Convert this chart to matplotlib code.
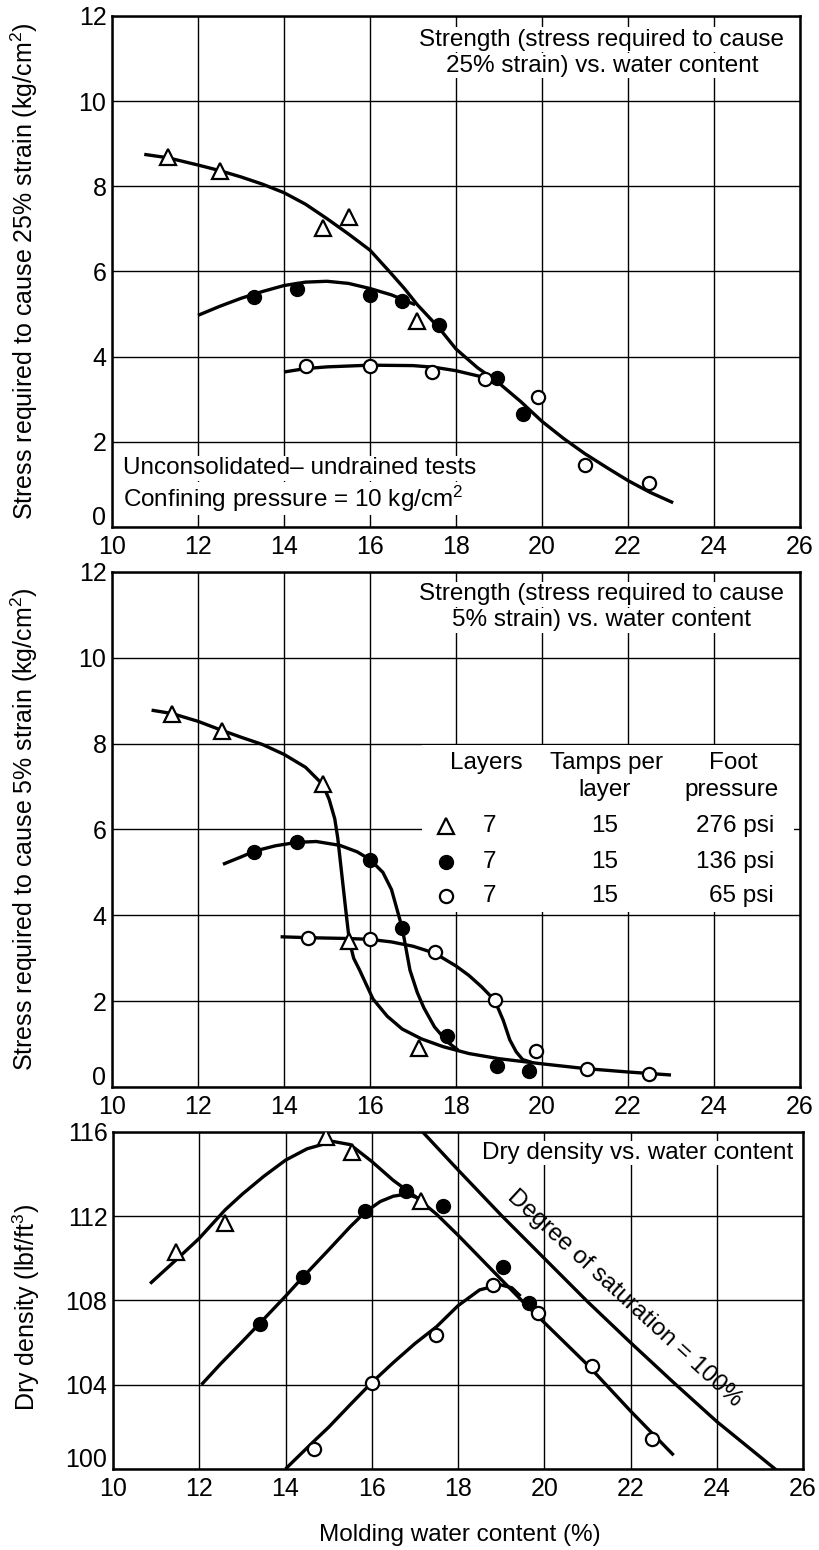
import numpy as np
import matplotlib.pyplot as plt
from matplotlib.patches import Rectangle
from matplotlib.transforms import ScaledTranslation


# plot setup
plt.rc('font', **{'family': 'sans-serif', 'sans-serif': ['Liberation Sans']})
plt.rc('mathtext', **{'default': 'regular'})
plt.rc('xtick', labelsize=18)
plt.rc('ytick', labelsize=18)
plt.rc('axes', labelsize=18)

# ---- stress for 25% strain ----
s25_tri_x = [11.3, 12.5, 14.9, 15.5, 17.1]
s25_tri_y = [8.68, 8.37, 7.03, 7.27, 4.84]
s25_fill_x = [13.3, 14.3, 16.0, 16.75, 17.6, 18.95, 19.55]
s25_fill_y = [5.4, 5.58, 5.45, 5.3, 4.75, 3.5, 2.65]
s25_open_x = [14.5, 16.0, 17.45, 18.67, 19.9, 21.0, 22.5]
s25_open_y = [3.78, 3.79, 3.63, 3.47, 3.05, 1.45, 1.03]

# fitted curves
s25_tri_cx = [10.75, 11.3, 12.0, 12.5, 13.0, 13.5, 14.0, 14.5, 15.0, 15.5, 16.0,
              16.45, 16.8, 17.1, 17.6, 18.0, 18.5, 18.95, 19.5, 20.0, 20.5, 21.0,
              21.5, 22.0, 22.5, 23.05]
s25_tri_cy = [8.75, 8.67, 8.5, 8.37, 8.22, 8.05, 7.85, 7.58, 7.24, 6.88, 6.5,
              6.0, 5.6, 5.22, 4.68, 4.18, 3.74, 3.42, 2.95, 2.48, 2.08, 1.72,
              1.4, 1.09, 0.82, 0.57]
s25_fill_cx = [12.0, 12.5, 13.0, 13.5, 14.0, 14.5, 15.0, 15.5, 16.0, 16.5, 17.05]
s25_fill_cy = [4.97, 5.18, 5.37, 5.53, 5.67, 5.75, 5.77, 5.72, 5.6, 5.45, 5.22]
s25_open_cx = [14.0, 14.5, 15.0, 16.0, 17.0, 17.5, 18.0, 18.5, 18.85]
s25_open_cy = [3.64, 3.72, 3.76, 3.8, 3.79, 3.75, 3.67, 3.55, 3.47]

# ---- stress for 5% strain ----
s5_tri_x = [11.4, 12.55, 14.9, 15.5, 17.15]
s5_tri_y = [8.7, 8.3, 7.05, 3.4, 0.9]
s5_fill_x = [13.3, 14.3, 16.0, 16.75, 17.8, 18.95, 19.7]
s5_fill_y = [5.48, 5.7, 5.3, 3.7, 1.2, 0.5, 0.38]
s5_open_x = [14.55, 16.0, 17.5, 18.9, 19.85, 21.05, 22.5]
s5_open_y = [3.48, 3.45, 3.15, 2.02, 0.83, 0.42, 0.3]

s5_tri_cx = [10.92, 11.4, 12.0, 12.5, 13.0, 13.5, 14.0, 14.5, 14.9, 15.05, 15.18,
             15.25, 15.35, 15.45, 15.52, 15.62, 15.76, 16.07, 16.4, 16.75, 17.2,
             17.7, 18.3, 19.0, 20.0, 21.0, 22.0, 23.0]
s5_tri_cy = [8.78, 8.7, 8.52, 8.33, 8.15, 7.98, 7.75, 7.45, 7.05, 6.7, 6.25,
             5.8, 4.9, 4.0, 3.4, 3.0, 2.72, 2.05, 1.65, 1.35, 1.12,
             0.94, 0.78, 0.66, 0.54, 0.43, 0.35, 0.28]
s5_fill_cx = [12.58, 13.0, 13.33, 13.8, 14.3, 14.75, 15.3, 15.7, 16.0, 16.3, 16.5,
              16.75, 16.93, 17.1, 17.25, 17.5, 17.8, 18.05]
s5_fill_cy = [5.19, 5.36, 5.5, 5.62, 5.7, 5.72, 5.63, 5.48, 5.3, 5.0, 4.6,
              3.7, 2.72, 2.2, 1.85, 1.4, 1.05, 0.86]
s5_open_cx = [13.92, 14.55, 15.0, 15.5, 16.0, 16.5, 17.0, 17.5, 18.0, 18.3, 18.6,
              18.9, 19.1, 19.25, 19.4, 19.55, 19.8]
s5_open_cy = [3.5, 3.48, 3.47, 3.46, 3.44, 3.38, 3.28, 3.12, 2.82, 2.6, 2.33,
              2.02, 1.55, 1.1, 0.82, 0.64, 0.56]

# ---- dry density ----
dd_tri_x = [11.45, 12.6, 14.95, 15.55, 17.15]
dd_tri_y = [110.3, 111.7, 115.75, 115.05, 112.7]
dd_fill_x = [13.4, 14.4, 15.85, 16.8, 17.65, 19.05, 19.65]
dd_fill_y = [106.9, 109.1, 112.25, 113.2, 112.5, 109.6, 107.9]
dd_open_x = [14.65, 16.0, 17.5, 18.8, 19.85, 21.1, 22.5]
dd_open_y = [100.95, 104.1, 106.35, 108.75, 107.4, 104.9, 101.4]

dd_tri_cx = [10.86, 11.45, 12.0, 12.6, 13.0, 13.5, 14.0, 14.5, 15.1, 15.5, 16.0,
             16.5, 17.0, 17.5, 18.0, 18.5, 19.0, 19.5, 20.0, 20.5, 21.0, 21.5,
             22.0, 22.5, 23.0]
dd_tri_cy = [108.8, 109.9, 110.95, 112.3, 113.05, 113.9, 114.66, 115.2, 115.55,
             115.4, 114.6, 113.7, 112.95, 112.1, 111.1, 110.05, 109.0, 107.95,
             106.95, 105.95, 104.95, 103.85, 102.75, 101.7, 100.65]
dd_fill_cx = [12.05, 12.5, 13.0, 13.42, 14.0, 14.4, 15.0, 15.5, 15.85, 16.2, 16.5,
              16.8, 17.1]
dd_fill_cy = [104.0, 105.0, 106.05, 106.95, 108.2, 109.1, 110.4, 111.5, 112.2,
              112.7, 112.95, 113.05, 112.85]
dd_open_cx = [14.0, 14.65, 15.0, 15.5, 16.0, 16.5, 17.0, 17.5, 18.0, 18.5, 18.97,
              19.25, 19.45]
dd_open_cy = [100.0, 101.3, 101.98, 103.05, 104.1, 105.05, 105.95, 106.75,
              107.75, 108.5, 108.75, 108.6, 108.2]
sat_x = [17.18, 18.0, 19.0, 20.0, 21.0, 22.0, 23.0, 24.0, 25.5]
sat_y = [116.0, 114.2, 112.05, 110.0, 107.95, 106.0, 104.1, 102.25, 99.75]

# compaction series (legend rows)
layers = ['7', '7', '7']
tamps = ['15', '15', '15']
foot = ['276 psi', '136 psi', '65 psi']

tri = dict(ls='none', marker='^', ms=12, mfc='white', mec='black', mew=1.6, zorder=4)
dot = dict(ls='none', marker='o', ms=10, mfc='black', mec='black', zorder=4)
ring = dict(ls='none', marker='o', ms=9.5, mfc='white', mec='black', mew=1.6, zorder=4)
curve = dict(color='black', lw=2.4, solid_capstyle='butt', solid_joinstyle='round', zorder=3)
FS = 17.5


def setup(ax, ylim, yticks):
    ax.set_xlim(10, 26)
    ax.set_ylim(*ylim)
    ax.set_xticks(range(10, 27, 2))
    ax.set_yticks(yticks)
    ax.grid(True, color='black', lw=1.0)
    ax.tick_params(length=0)
    ax.tick_params(axis='x', pad=6)
    ax.tick_params(axis='y', pad=4)
    for sp in ax.spines.values():
        sp.set_linewidth(1.8)


def lift_bottom_label(ax, pts):
    # raise the lowest y tick label so it clears the x tick labels
    fig.canvas.draw()
    lab = ax.get_yticklabels()[0]
    lab.set_transform(lab.get_transform() + ScaledTranslation(0, pts / 72, fig.dpi_scale_trans))


fig = plt.figure(figsize=(8.2, 15.5), dpi=100)
ax1 = fig.add_axes([0.1366, 0.6600, 0.8390, 0.3297])
ax2 = fig.add_axes([0.1366, 0.2987, 0.8390, 0.3323])
ax3 = fig.add_axes([0.1378, 0.0523, 0.8415, 0.2174])

box = dict(fc='white', ec='none', pad=1)

# 25% strain
setup(ax1, (0, 12), range(0, 13, 2))
ax1.plot(s25_tri_cx, s25_tri_cy, **curve)
ax1.plot(s25_fill_cx, s25_fill_cy, **curve)
ax1.plot(s25_open_cx, s25_open_cy, **curve)
ax1.plot(s25_tri_x, s25_tri_y, **tri)
ax1.plot(s25_fill_x, s25_fill_y, **dot)
ax1.plot(s25_open_x, s25_open_y, **ring)
ax1.set_ylabel('Stress required to cause 25% strain (kg/cm$^2$)', fontsize=18)
ax1.yaxis.set_label_coords(-0.104, 0.5)
ax1.text(21.39, 11.44, 'Strength (stress required to cause', fontsize=FS,
         ha='center', va='center', bbox=box)
ax1.text(21.39, 10.83, '25% strain) vs. water content', fontsize=FS,
         ha='center', va='center', bbox=box)
ax1.text(10.26, 1.38, 'Unconsolidated\u2013 undrained tests', fontsize=FS,
         ha='left', va='center', bbox=box)
ax1.text(10.26, 0.67, 'Confining pressure = 10 kg/cm$^2$', fontsize=FS,
         ha='left', va='center', bbox=box)

# 5% strain
setup(ax2, (0, 12), range(0, 13, 2))
ax2.plot(s5_tri_cx, s5_tri_cy, **curve)
ax2.plot(s5_fill_cx, s5_fill_cy, **curve)
ax2.plot(s5_open_cx, s5_open_cy, **curve)
ax2.plot(s5_tri_x, s5_tri_y, **tri)
ax2.plot(s5_fill_x, s5_fill_y, **dot)
ax2.plot(s5_open_x, s5_open_y, **ring)
ax2.set_ylabel('Stress required to cause 5% strain (kg/cm$^2$)', fontsize=18)
ax2.yaxis.set_label_coords(-0.104, 0.5)
ax2.text(21.39, 11.48, 'Strength (stress required to cause', fontsize=FS,
         ha='center', va='center', bbox=box)
ax2.text(21.39, 10.87, '5% strain) vs. water content', fontsize=FS,
         ha='center', va='center', bbox=box)

# legend table
ax2.add_patch(Rectangle((17.2, 4.07), 8.65, 3.9, fc='white', ec='none', zorder=1.8))
ax2.text(18.7, 7.56, 'Layers', fontsize=FS, ha='center', va='center')
ax2.text(21.5, 7.56, 'Tamps per', fontsize=FS, ha='center', va='center')
ax2.text(21.46, 6.92, 'layer', fontsize=FS, ha='center', va='center')
ax2.text(24.45, 7.56, 'Foot', fontsize=FS, ha='center', va='center')
ax2.text(24.42, 6.92, 'pressure', fontsize=FS, ha='center', va='center')
rows_y = [6.07, 5.25, 4.46]
for st, ly, tp, fp, yy in zip([tri, dot, ring], layers, tamps, foot, rows_y):
    ax2.plot([17.76], [yy], **st)
    ax2.text(18.77, yy, ly, fontsize=FS, ha='center', va='center')
    ax2.text(21.46, yy, tp, fontsize=FS, ha='center', va='center')
    ax2.text(25.4, yy, fp, fontsize=FS, ha='right', va='center')

# dry density
setup(ax3, (100, 116), range(100, 117, 4))
ax3.plot(dd_tri_cx, dd_tri_cy, **curve)
ax3.plot(dd_fill_cx, dd_fill_cy, **curve)
ax3.plot(dd_open_cx, dd_open_cy, **curve)
ax3.plot(sat_x, sat_y, **curve)
ax3.plot(dd_tri_x, dd_tri_y, **tri)
ax3.plot(dd_fill_x, dd_fill_y, **dot)
ax3.plot(dd_open_x, dd_open_y, **ring)
ax3.set_ylabel('Dry density (lbf/ft$^3$)', fontsize=18)
ax3.yaxis.set_label_coords(-0.103, 0.48)
ax3.text(22.17, 115.0, 'Dry density vs. water content', fontsize=FS,
         ha='center', va='center', bbox=box)
ax3.text(21.86, 108.1, 'Degree of saturation = 100%', fontsize=FS,
         ha='center', va='center', rotation=-42.5, rotation_mode='anchor')

fig.text(0.561, 1 - 1535 / 1550, 'Molding water content (%)', fontsize=FS,
         ha='center', va='center')

for ax in (ax1, ax2, ax3):
    lift_bottom_label(ax, 8)

plt.savefig('out.png', dpi=100)
